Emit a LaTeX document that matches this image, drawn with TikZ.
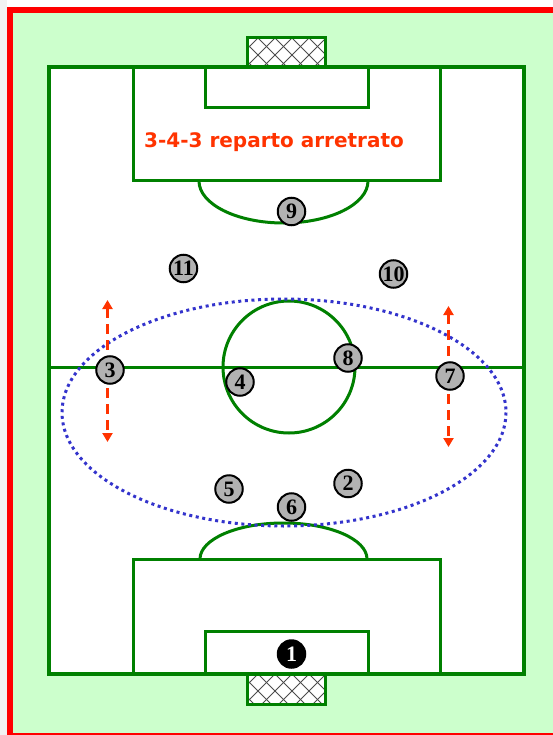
\documentclass[tikz,border=0pt]{standalone}
\usepackage{fontspec}
\newfontfamily\titlefont{DejaVu Sans}
\newfontfamily\numfont{Liberation Serif}
\usetikzlibrary{arrows.meta}
\definecolor{bggreen}{HTML}{CCFFCC}
\definecolor{fieldline}{HTML}{008000}
\definecolor{orred}{HTML}{FF3300}
\definecolor{dotblue}{HTML}{3333CC}
\definecolor{pgray}{HTML}{B2B2B2}
\definecolor{stripgray}{HTML}{F2F2F2}
\tikzset{
  fld/.style={draw=fieldline, line width=3},
  player/.style={circle, draw=black, line width=2, fill=pgray, minimum size=27.5, inner sep=0pt, font=\numfont\bfseries\fontsize{22}{22}\selectfont},
  keeper/.style={player, fill=black, text=white},
  movearrow/.style={draw=orred, line width=2.8, dash pattern=on 10 off 6, {Triangle[width=10,length=9]}-{Triangle[width=10,length=9]}},
  netline/.style={draw=black!70, line width=1}
}
\begin{document}
\begin{tikzpicture}[x=1pt,y=-1pt]
\useasboundingbox (0,0) rectangle (552,735);
\fill[white] (0,0) rectangle (552,735);
\fill[stripgray] (0,0) rectangle (7,735);
% red frame and green background
\fill[red] (7,7) rectangle (560,745);
\fill[bggreen] (13,13) rectangle (560,733);
% nets
\foreach \ya/\yb in {38/67, 674/704}{
  \fill[white] (247,\ya) rectangle (325,\yb);
  \begin{scope}
    \clip (247,\ya) rectangle (325,\yb);
    \foreach \c in {-40,-23,...,120}{
      \draw[netline] (247+\c,\ya) -- ++(40,40);
      \draw[netline] (247+\c,\ya) -- ++(-40,40);
    }
  \end{scope}
  \draw[fld] (247,\ya) rectangle (325,\yb);
}
% field
\draw[fill=white, draw=fieldline, line width=4] (49,67) rectangle (524,674);
% top penalty area, goal area, arc
\draw[fld] (133,67) rectangle (440,181);
\draw[fld] (205,67) rectangle (368,108);
\draw[fld] (199,181) arc[start angle=180, end angle=0, x radius=84.5, y radius=42];
% bottom penalty area, goal area, arc
\draw[fld] (133,559) rectangle (440,674);
\draw[fld] (205,631) rectangle (368,674);
\draw[fld] (200,559) arc[start angle=180, end angle=360, x radius=83.5, y radius=36];
% halfway line and centre circle
\draw[fld] (49,367) -- (524,367);
\draw[fld] (289,367) circle[radius=66];
% title
\node[anchor=base west, inner sep=0pt, text=orred, font=\titlefont\bfseries\fontsize{20}{20}\selectfont] (title) at (144,147.5) {3-4-3 reparto arretrato};
% dotted ellipse
\draw[dotblue, line width=3, dash pattern=on 3 off 3.6] (284,412.5) ellipse[x radius=222, y radius=113.5];
% movement arrows
\coordinate (a3t) at (107.5,300);
\coordinate (a3b) at (107.5,442);
\coordinate (a7t) at (448.5,306);
\coordinate (a7b) at (448.5,447);
\draw[movearrow] (a3t) -- (a3b);
\draw[movearrow] (a7t) -- (a7b);
% players
\node[keeper] (p1) at (291.5,654) {1};
\node[player] (p2) at (348,483.5) {2};
\node[player] (p3) at (110,370) {3};
\node[player] (p4) at (240,382) {4};
\node[player] (p5) at (229,489) {5};
\node[player] (p6) at (291.5,507) {6};
\node[player] (p7) at (450,376) {7};
\node[player] (p8) at (348,358) {8};
\node[player] (p9) at (291.5,211.5) {9};
\node[player] (p10) at (393.5,274) {10};
\node[player] (p11) at (183.5,268.5) {11};
\end{tikzpicture}
\end{document}
